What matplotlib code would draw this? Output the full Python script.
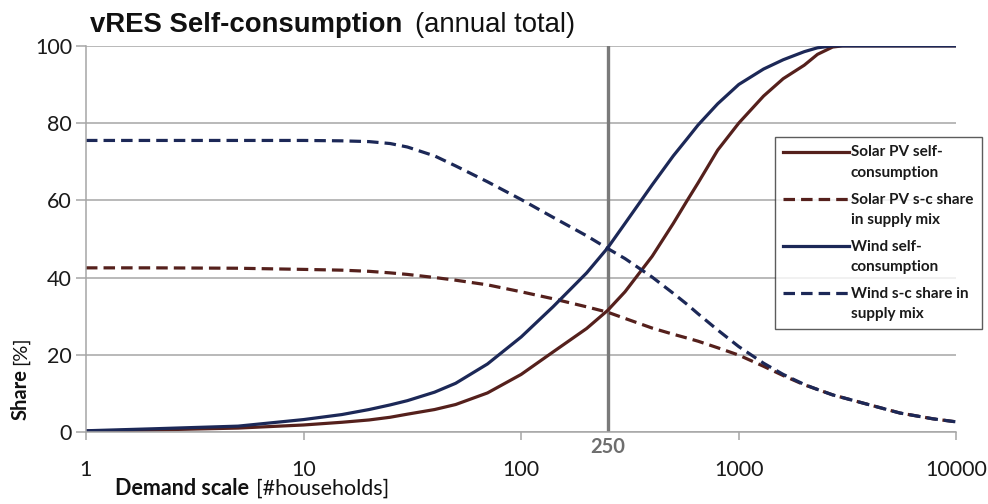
import matplotlib
matplotlib.use("Agg")
import matplotlib.pyplot as plt
from matplotlib.lines import Line2D
from matplotlib.legend_handler import HandlerLine2D

# demand scale (number of households) and shares in %
households = [1, 2, 5, 10, 15, 20, 25, 30, 40, 50, 70, 100, 140, 200, 250,
              300, 400, 500, 580, 650, 800, 1000, 1300, 1600, 2000, 2300,
              2700, 3000, 4000, 5500, 7800, 10000]
pv_self = [0.2, 0.5, 1.0, 1.8, 2.5, 3.1, 3.8, 4.6, 5.8, 7.1, 10.1, 14.9,
           20.7, 26.8, 31.5, 36.3, 45.5, 54.0, 60.0, 64.5, 73.0, 80.0, 87.0,
           91.5, 95.0, 97.8, 99.7, 100, 100, 100, 100, 100]
pv_share = [42.5, 42.5, 42.4, 42.1, 41.9, 41.6, 41.2, 40.8, 40.0, 39.3, 38.1,
            36.3, 34.5, 32.4, 31.0, 29.4, 26.9, 25.3, 24.3, 23.5, 21.8, 19.9,
            17.0, 14.6, 12.2, 11.0, 9.6, 8.9, 7.0, 4.9, 3.4, 2.6]
wind_self = [0.3, 0.8, 1.5, 3.2, 4.5, 5.8, 7.0, 8.1, 10.3, 12.6, 17.6, 24.6,
             32.4, 41.2, 47.7, 54.0, 64.0, 71.5, 76.0, 79.5, 85.0, 90.0, 94.0,
             96.4, 98.5, 99.5, 100, 100, 100, 100, 100, 100]
wind_share = [75.5, 75.5, 75.5, 75.5, 75.4, 75.2, 74.7, 73.8, 71.5, 68.9,
              64.8, 60.2, 55.6, 50.8, 47.5, 44.9, 40.1, 35.9, 33.0, 30.6, 26.4,
              22.1, 17.8, 14.9, 12.3, 11.0, 9.6, 8.9, 7.0, 4.9, 3.4, 2.6]

labels = ["Solar PV self-\nconsumption",
          "Solar PV s-c share\nin supply mix",
          "Wind self-\nconsumption",
          "Wind s-c share in\nsupply mix"]
x_ticks = [1, 10, 100, 1000, 10000]
y_ticks = [0, 20, 40, 60, 80, 100]
marker_x = 250

brown = "#55201c"
navy = "#1c2857"
grid = "#a6a6a6"
ui_font = ["Lato", "DejaVu Sans"]


class TopLineHandler(HandlerLine2D):
    """Legend line drawn level with the first line of a two-line label."""
    def __init__(self, shift, **kw):
        super().__init__(**kw)
        self.shift = shift

    def create_artists(self, legend, orig_handle, xdescent, ydescent,
                       width, height, fontsize, trans):
        return super().create_artists(legend, orig_handle, xdescent,
                                      ydescent - 2 * self.shift, width,
                                      height, fontsize, trans)


fig = plt.figure(figsize=(9.88, 5.04), dpi=100)
ax = fig.add_axes([0.087, 0.143, 0.881, 0.766])

dash = (0, (3.6, 1.9))
lw = 2.3
ax.plot(households, pv_self, color=brown, lw=lw, label=labels[0])
ax.plot(households, pv_share, color=brown, lw=lw, ls=dash, label=labels[1])
ax.plot(households, wind_self, color=navy, lw=lw, label=labels[2])
ax.plot(households, wind_share, color=navy, lw=lw, ls=dash, label=labels[3])

ax.axvline(marker_x, color="#7a7a7a", lw=2.4, zorder=1)

ax.set_xscale("log")
ax.set_xlim(1, 10000)
ax.set_ylim(0, 100)
ax.set_xticks(x_ticks)
ax.set_xticklabels([str(t) for t in x_ticks], family=ui_font, fontsize=15.5)
ax.minorticks_off()
ax.set_yticks(y_ticks)
ax.set_yticklabels([str(t) for t in y_ticks], family=ui_font, fontsize=15.5)
ax.yaxis.grid(True, color=grid, lw=1.1)
ax.set_axisbelow(True)

for side in ["top", "right"]:
    ax.spines[side].set_visible(False)
for side in ["left", "bottom"]:
    ax.spines[side].set_color(grid)
    ax.spines[side].set_linewidth(1.1)
ax.tick_params(axis="x", direction="out", length=6, width=1.1, color=grid,
               pad=14, labelcolor="#1a1a1a")
ax.tick_params(axis="y", direction="out", length=7, width=1.1, color=grid,
               pad=3, labelcolor="#1a1a1a")

# label for the highlighted demand scale
ax.text(marker_x, -0.039, str(marker_x), ha="center", va="center",
        fontsize=14.5, fontweight="bold", color="#6e6e6e", family=ui_font,
        transform=ax.get_xaxis_transform())

leg_size = 11.0
leg = ax.legend(loc="upper left", bbox_to_anchor=(0.784, 0.728),
                bbox_transform=fig.transFigure, frameon=True, fancybox=False,
                prop={"family": ui_font, "size": leg_size, "weight": "bold"},
                handlelength=4.3, handletextpad=0.15, labelspacing=0.85,
                borderpad=0.55, borderaxespad=0,
                handler_map={Line2D: TopLineHandler(0.72 * leg_size)})
leg.get_frame().set_edgecolor("#333333")
leg.get_frame().set_linewidth(1.0)
for t in leg.get_texts():
    t.set_color("#1a1a1a")
    t.set_linespacing(1.55)

# title and axis labels with a bold part and a regular part
fig.canvas.draw()
renderer = fig.canvas.get_renderer()


def two_part(x, y, bold, plain, size, family, gap):
    t1 = fig.text(x, y, bold, fontsize=size, fontweight="bold", family=family,
                  ha="left", va="baseline", color="#111111")
    bb = t1.get_window_extent(renderer).transformed(fig.transFigure.inverted())
    fig.text(bb.x1 + gap, y, plain, fontsize=size, family=family,
             ha="left", va="baseline", color="#111111")


two_part(0.091, 0.936, "vRES Self-consumption", "(annual total)", 19.8,
         ["Liberation Sans", "DejaVu Sans"], 0.013)
two_part(0.116, 0.018, "Demand scale", "[#households]", 15.5, ui_font, 0.007)

t = fig.text(0.021, 0.167, "Share", fontsize=14.5, fontweight="bold",
             family=ui_font, rotation=90, ha="center", va="bottom",
             color="#111111")
bb = t.get_window_extent(renderer).transformed(fig.transFigure.inverted())
fig.text(0.021, bb.y1 + 0.008, "[%]", fontsize=14.5, family=ui_font,
         rotation=90, ha="center", va="bottom", color="#111111")

fig.savefig("out.png", dpi=100)
